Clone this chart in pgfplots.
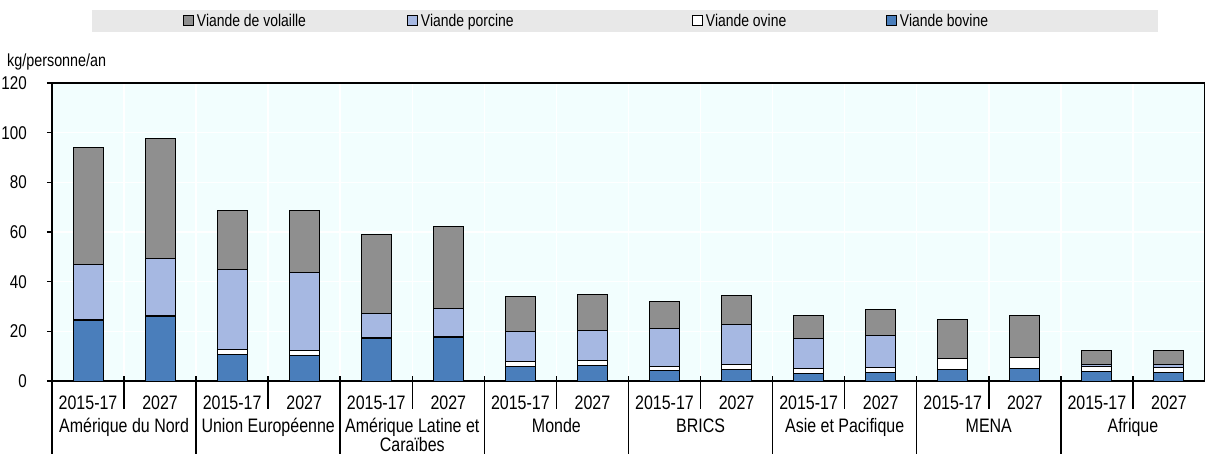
\documentclass[border=0pt]{standalone}
\usepackage{fontspec}
\setmainfont{Liberation Sans}[FakeStretch=0.82]
\usepackage{pgfplots}
\usepackage{pgfplotstable}
\pgfplotsset{compat=1.18}

\definecolor{volaille}{HTML}{8F8F8F}
\definecolor{porcine}{HTML}{A6B8E2}
\definecolor{bovine}{HTML}{4A7EBB}
\definecolor{plotbg}{HTML}{F2FEFE}
\definecolor{bandgray}{HTML}{E8E8E8}

% kg/personne/an, barres 0..15 : (2015-17, 2027) par région
\pgfplotstableread{
x  bov  ovi  por  vol
0  24.3 0.6  22.2 47.1
1  25.9 0.5  23.1 48.0
2  10.5 2.0  32.3 23.8
3  10.1 2.1  31.6 24.8
4  17.0 0.5  9.8  31.6
5  17.6 0.5  11.0 33.3
6  6.0  2.0  12.0 14.0
7  6.4  1.9  12.1 14.6
8  4.2  1.6  15.3 10.8
9  4.7  1.9  16.1 11.9
10 3.1  1.9  12.0 9.3
11 3.6  1.9  12.9 10.3
12 4.7  4.4  0.1  15.6
13 5.0  4.4  0.1  16.7
14 3.8  2.0  1.0  5.5
15 3.6  2.0  1.2  5.4
}\meat

\newcommand\lab{\fontsize{19.5}{22}\selectfont}

\begin{document}
\begin{tikzpicture}
\fill[bandgray] (40pt,349pt) rectangle (1106pt,371pt);
\begin{axis}[
  scale only axis, width=1153pt, height=298pt,
  xmin=-0.5, xmax=15.5, ymin=0, ymax=120,
  ybar stacked, bar width=30pt,
  clip=false,
  axis background/.style={fill=plotbg},
  axis line style={black, line width=1.5pt},
  ytick={0,20,...,120},
  yticklabel style={anchor=east, inner sep=0pt, xshift=-20pt, font=\fontsize{18.5}{20}\selectfont},
  /pgf/number format/assume math mode=true,
  tick align=outside, major tick length=5pt,
  ytick style={black, line width=1.2pt},
  xtick={0,...,15},
  xtick style={draw=none},
  xticklabels={2015-17,2027,2015-17,2027,2015-17,2027,2015-17,2027,2015-17,2027,2015-17,2027,2015-17,2027,2015-17,2027},
  xticklabel style={anchor=base, inner sep=0pt, yshift=-23pt, font=\lab},
  minor xtick={0.5,1.5,...,14.5},
  minor tick length=0pt,
  xminorgrids, ymajorgrids,
  major grid style={white, line width=1.5pt},
  minor grid style={white, line width=1.5pt},
  legend columns=4, reverse legend,
  legend style={draw=none, fill=none, at={(axis description cs:0.1136,1.2081)}, anchor=west,
    inner sep=0pt, outer sep=0pt, column sep=0pt, font=\fontsize{17}{19}\selectfont,
    nodes={inner sep=0pt}},
  legend image code/.code={\draw[#1, line width=1pt] (0pt,-5pt) rectangle (10pt,5pt);},
]
\addplot[fill=bovine, draw=black, line width=1pt] table[x=x,y=bov]{\meat};
\addlegendentry{\makebox[100pt][l]{\hspace{3pt}Viande bovine}}
\addplot[fill=white, draw=black, line width=1pt] table[x=x,y=ovi]{\meat};
\addlegendentry{\makebox[183pt][l]{\hspace{3pt}Viande ovine}}
\addplot[fill=porcine, draw=black, line width=1pt] table[x=x,y=por]{\meat};
\addlegendentry{\makebox[274pt][l]{\hspace{3pt}Viande porcine}}
\addplot[fill=volaille, draw=black, line width=1pt] table[x=x,y=vol]{\meat};
\addlegendentry{\makebox[213pt][l]{\hspace{3pt}Viande de volaille}}

\pgfplotsinvokeforeach{0.5,2.5,...,14.5}{
  \draw[black, line width=1.5pt] ([yshift=5pt]axis cs:#1,0) -- ([yshift=-28pt]axis cs:#1,0);}
\pgfplotsinvokeforeach{1.5,3.5,...,13.5}{
  \draw[black, line width=1.5pt] ([yshift=5pt]axis cs:#1,0) -- ([yshift=-80pt]axis cs:#1,0);}
\draw[black, line width=1.5pt] (axis cs:-0.5,0) -- ([yshift=-80pt]axis cs:-0.5,0);

\node[anchor=base, font=\lab] at ([yshift=-51pt]axis cs:0.5,0) {Amérique du Nord};
\node[anchor=base, font=\lab] at ([yshift=-51pt]axis cs:2.5,0) {Union Européenne};
\node[anchor=base, font=\lab] at ([yshift=-51pt]axis cs:4.5,0) {Amérique Latine et};
\node[anchor=base, font=\lab] at ([yshift=-70pt]axis cs:4.5,0) {Caraïbes};
\node[anchor=base, font=\lab] at ([yshift=-51pt]axis cs:6.5,0) {Monde};
\node[anchor=base, font=\lab] at ([yshift=-51pt]axis cs:8.5,0) {BRICS};
\node[anchor=base, font=\lab] at ([yshift=-51pt]axis cs:10.5,0) {Asie et Pacifique};
\node[anchor=base, font=\lab] at ([yshift=-51pt]axis cs:12.5,0) {MENA};
\node[anchor=base, font=\lab] at ([yshift=-51pt]axis cs:14.5,0) {Afrique};
\end{axis}
\node[anchor=base west, inner sep=0pt, font=\fontsize{17.5}{20}\selectfont] at (-45pt,314pt) {kg/personne/an};
\pgfresetboundingbox
\path[use as bounding box] (-52pt,-72pt) rectangle (1153pt,381pt);
\end{tikzpicture}
\end{document}
